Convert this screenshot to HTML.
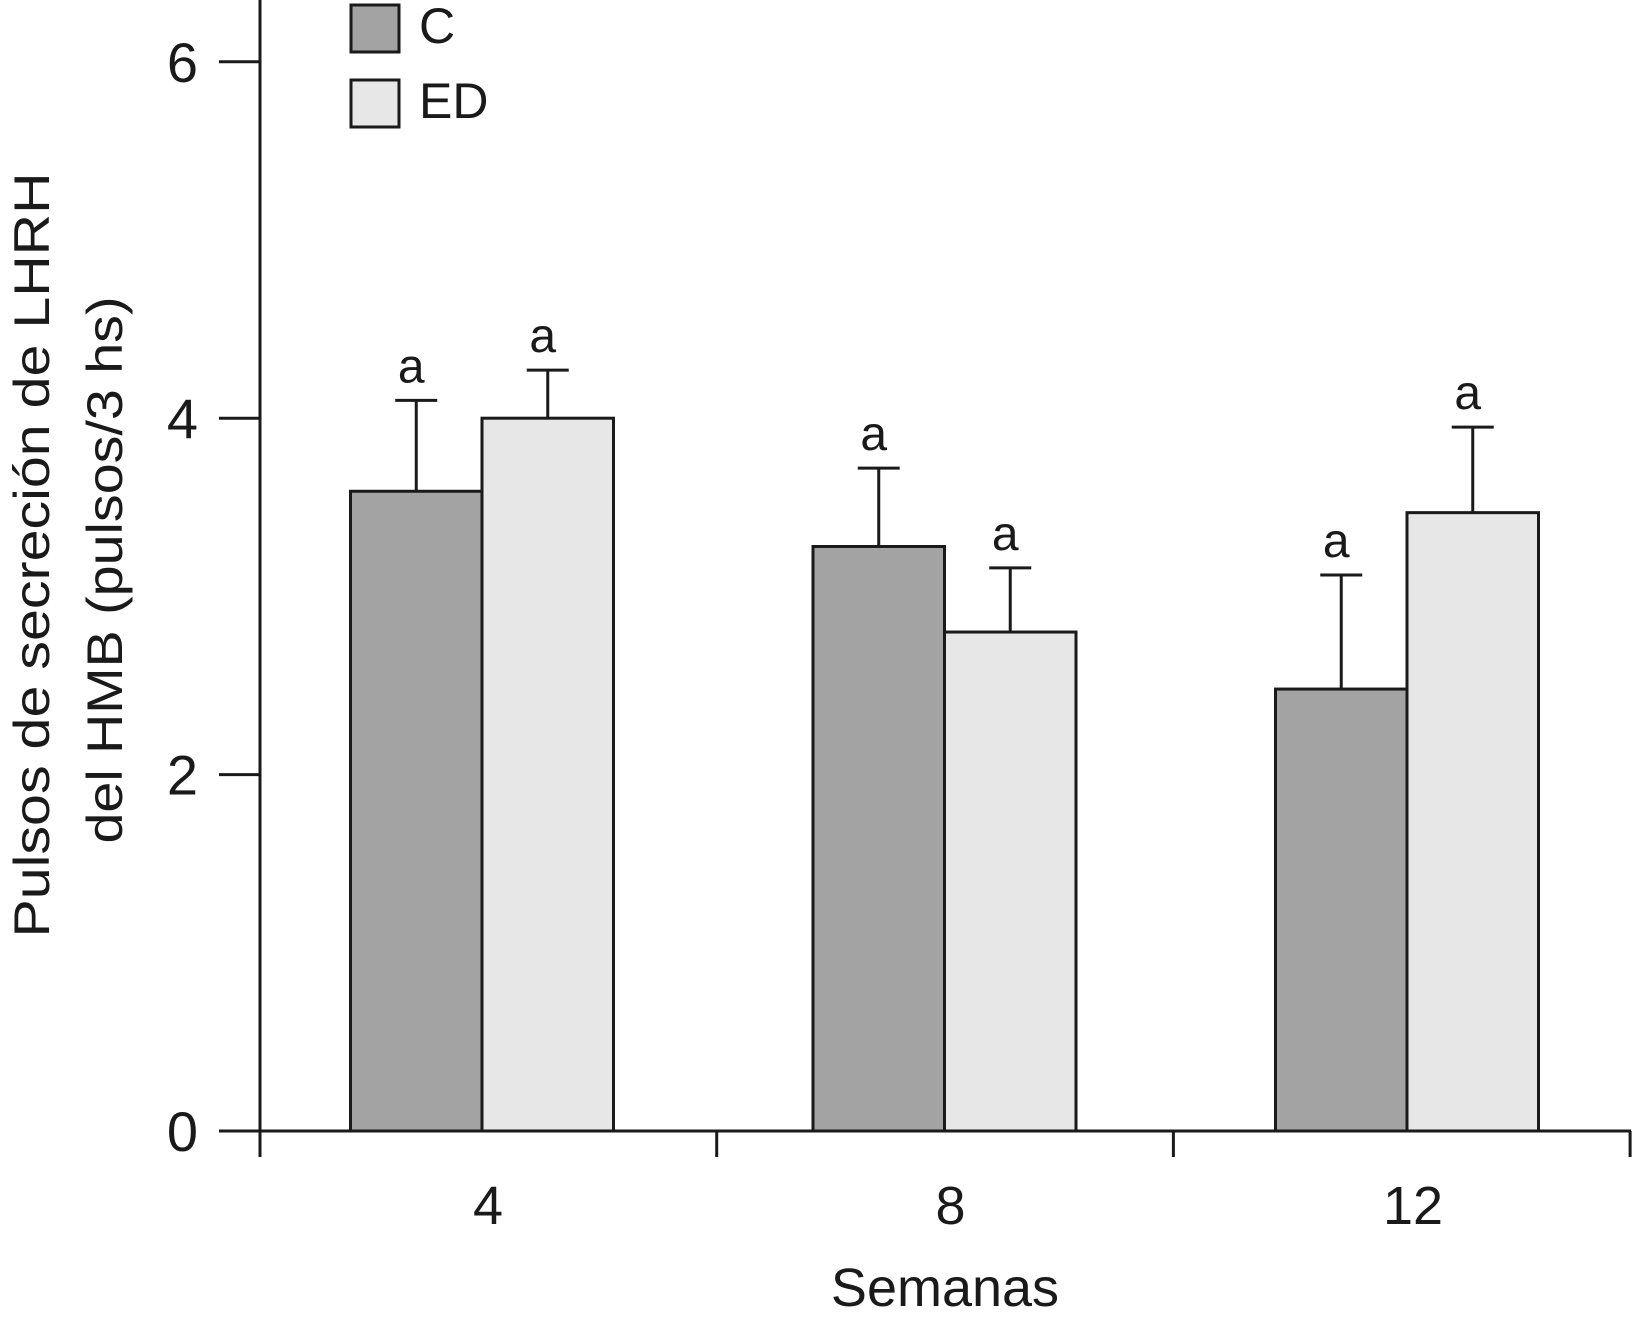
<!DOCTYPE html>
<html><head><meta charset="utf-8"><style>body{margin:0;background:#fff}svg{display:block}text{font-family:"Liberation Sans",sans-serif;fill:#1a1a1a}</style></head>
<body>
<svg id="chart" width="1633" height="1326" viewBox="0 0 1633 1326" xmlns="http://www.w3.org/2000/svg">
<g id="axes"></g>
<g id="bars"></g>
<g>
<text transform="translate(49,555) rotate(-90)" text-anchor="middle" font-size="50" textLength="765" lengthAdjust="spacingAndGlyphs">Pulsos de secreción de LHRH</text>
<text transform="translate(122,570) rotate(-90)" text-anchor="middle" font-size="50" textLength="547" lengthAdjust="spacingAndGlyphs">del HMB (pulsos/3 hs)</text>
</g>
<text x="945" y="1306" text-anchor="middle" font-size="54">Semanas</text>
<g>
<rect x="351" y="5" width="48" height="47" fill="#a3a3a3" stroke="#1a1a1a" stroke-width="3"/>
<text x="419" y="43" font-size="50">C</text>
<rect x="351" y="80" width="48" height="47" fill="#e7e7e7" stroke="#1a1a1a" stroke-width="3"/>
<text x="419" y="118" font-size="50">ED</text>
</g>
</svg>
<script>
const categories = ["4", "8", "12"];
const seriesNames = ["C", "ED"];
const valuesC = [3.59, 3.28, 2.48];
const valuesED = [4.0, 2.80, 3.47];
const errC = [4.10, 3.72, 3.12];
const errED = [4.27, 3.16, 3.95];
const sigLabelsC = ["a", "a", "a"];
const sigLabelsED = ["a", "a", "a"];
const yTicks = [0, 2, 4, 6];

const NS = "http://www.w3.org/2000/svg";
const y0 = 1131, yPer = 178.2;
function yScale(v){ return y0 - v*yPer; }
const groupCenters0 = 482, groupStep = 462.5, barW = 131.5;
function xCenter(i){ return groupCenters0 + i*groupStep; }
function mk(tag, attrs, parent){ const e=document.createElementNS(NS,tag); for(const k in attrs) e.setAttribute(k,attrs[k]); parent.appendChild(e); return e; }
const axes=document.getElementById('axes'), bars=document.getElementById('bars');

const ya = mk('line',{x1:260,y1:0,x2:260,y2:1131,stroke:'#1a1a1a','stroke-width':3},axes);


const xa = mk('line',{x1:219,y1:1131,x2:1631,y2:1131,stroke:'#1a1a1a','stroke-width':3},axes);


yTicks.forEach(t=>{
  const y=yScale(t);
  const tk=mk('line',{x1:219,y1:y,x2:260,y2:y,stroke:'#1a1a1a','stroke-width':3},axes);
  
  
  const tl=mk('text',{x:198,y:y+20,'text-anchor':'end','font-size':56},axes);
  tl.textContent=t;
  
  
});
for(let i=0;i<=categories.length;i++){
  const x = 260 + i*456.7;
  const tk=mk('line',{x1:x,y1:1131,x2:x,y2:1157,stroke:'#1a1a1a','stroke-width':3},axes);
  
  
}
categories.forEach((c,i)=>{
  const tl=mk('text',{x:xCenter(i)+6,y:1224,'text-anchor':'middle','font-size':54},axes);
  tl.textContent=c;
  
  
});
function drawSeries(vals, errs, labs, fill, off, name){
  vals.forEach((v,i)=>{
    const x = xCenter(i) + off;
    const r=mk('rect',{x:x,y:yScale(v),width:barW,height:y0-yScale(v),fill:fill,stroke:'#1a1a1a','stroke-width':3},bars);
    
    
    const cx = x + barW/2, ye = yScale(errs[i]);
    const e1=mk('line',{x1:cx,y1:yScale(v),x2:cx,y2:ye,stroke:'#1a1a1a','stroke-width':3},bars);
    
    
    const e2=mk('line',{x1:cx-21,y1:ye,x2:cx+21,y2:ye,stroke:'#1a1a1a','stroke-width':3},bars);
    
    
    const t=mk('text',{x:cx-5,y:ye-18,'text-anchor':'middle','font-size':48},bars);
    t.textContent=labs[i];
    
    
  });
}
drawSeries(valuesC, errC, sigLabelsC, '#a3a3a3', -barW, 'c');
drawSeries(valuesED, errED, sigLabelsED, '#e7e7e7', 0, 'ed');
</script>
</body></html>
